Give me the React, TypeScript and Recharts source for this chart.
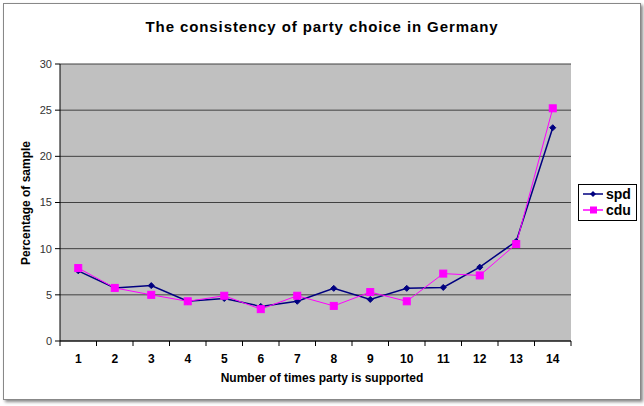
import React from 'react';
import { LineChart, Line, XAxis, YAxis, CartesianGrid } from 'recharts';

// number of times a party is supported
const times = [1, 2, 3, 4, 5, 6, 7, 8, 9, 10, 11, 12, 13, 14];
// percentage of sample
const spd = [7.6, 5.75, 6.0, 4.3, 4.6, 3.75, 4.3, 5.7, 4.5, 5.7, 5.8, 8.0, 10.8, 23.1];
const cdu = [7.9, 5.75, 5.0, 4.3, 4.9, 3.45, 4.9, 3.8, 5.3, 4.3, 7.3, 7.1, 10.5, 25.2];
const yTicks = [0, 5, 10, 15, 20, 25, 30];

const SPD_COLOR = '#000080';
const CDU_COLOR = '#FF00FF';
const FONT = '"Liberation Sans", Arial, sans-serif';

const data = times.map((t, i) => ({ t, spd: spd[i], cdu: cdu[i] }));

// ticks on the half steps are category boundaries, whole ones carry the labels
const xTicks = [0.5, ...times.flatMap((t) => [t, t + 0.5])];

const XTick = (props: any) => {
  const { x, y, payload } = props;
  if (payload.value % 1 !== 0) {
    return <line x1={x} y1={y} x2={x} y2={y + 5} stroke="#000" />;
  }
  return (
    <text x={x} y={y + 22} textAnchor="middle" fontFamily={FONT} fontWeight="bold" fontSize={12} fill="#000">
      {payload.value}
    </text>
  );
};

const Diamond = (props: any) => {
  const { cx, cy } = props;
  if (cx == null || cy == null) return null;
  return <polygon points={`${cx},${cy - 3} ${cx + 3},${cy} ${cx},${cy + 3} ${cx - 3},${cy}`} fill={SPD_COLOR} stroke={SPD_COLOR} />;
};

const Square = (props: any) => {
  const { cx, cy } = props;
  if (cx == null || cy == null) return null;
  return <rect x={cx - 3.5} y={cy - 3.5} width={7} height={7} fill={CDU_COLOR} stroke={CDU_COLOR} />;
};

const LegendBox = () => (
  <div
    style={{
      position: 'absolute',
      left: 578,
      top: 184,
      width: 59,
      height: 37,
      border: '1px solid #000',
      background: '#fff',
      fontFamily: FONT,
      fontWeight: 'bold',
      fontSize: 14,
      boxSizing: 'border-box',
      padding: '1px 0 0 3px',
    }}
  >
    {[
      { name: 'spd', color: SPD_COLOR, square: false },
      { name: 'cdu', color: CDU_COLOR, square: true },
    ].map((s) => (
      <div key={s.name} style={{ display: 'flex', alignItems: 'center', height: 16 }}>
        <svg width={22} height={10} style={{ marginRight: 2 }}>
          <line x1={1} y1={5} x2={21} y2={5} stroke={s.color} strokeWidth={1.5} />
          {s.square ? (
            <rect x={8} y={1.5} width={7} height={7} fill={s.color} />
          ) : (
            <polygon points="11,2 14,5 11,8 8,5" fill={s.color} />
          )}
        </svg>
        <span>{s.name}</span>
      </div>
    ))}
  </div>
);

export default function App() {
  return (
    <div style={{ position: 'absolute', left: 0, top: 0, width: 644, height: 406, background: '#fff' }}>
      <div
        style={{
          position: 'absolute',
          left: 3,
          top: 3,
          width: 636,
          height: 395,
          border: '1px solid #888',
          boxShadow: '2px 2px 3px #888',
          background: '#fff',
        }}
      />
      <div
        style={{
          position: 'absolute',
          left: 0,
          top: 18,
          width: 644,
          textAlign: 'center',
          fontFamily: FONT,
          fontWeight: 'bold',
          fontSize: 15,
          letterSpacing: 0.9,
        }}
      >
        The consistency of party choice in Germany
      </div>
      <div style={{ position: 'absolute', left: 0, top: 0 }}>
        <LineChart width={644} height={406} data={data} margin={{ top: 64, right: 73, bottom: 35, left: 20 }}>
          <CartesianGrid vertical={false} fill="#C0C0C0" stroke="#404040" strokeWidth={1} horizontalValues={yTicks} />
          <XAxis
            dataKey="t"
            type="number"
            domain={[0.5, 14.5]}
            ticks={xTicks}
            interval={0}
            tick={<XTick />}
            tickLine={false}
            tickSize={0}
            tickMargin={0}
            axisLine={{ stroke: '#000' }}
            height={30}
          />
          <YAxis
            domain={[0, 30]}
            ticks={yTicks}
            interval={0}
            width={40}
            tickSize={5}
            tickMargin={3}
            tickLine={{ stroke: '#000' }}
            axisLine={{ stroke: '#000' }}
            tick={{ fontFamily: FONT, fontSize: 11, fill: '#333' }}
          />
          <YAxis yAxisId="r" orientation="right" domain={[0, 30]} width={0} tick={false} tickLine={false} axisLine={{ stroke: '#808080' }} />
          <Line dataKey="spd" stroke={SPD_COLOR} strokeWidth={1.5} dot={<Diamond />} activeDot={false} isAnimationActive={false} />
          <Line dataKey="cdu" stroke={CDU_COLOR} strokeWidth={1} dot={<Square />} activeDot={false} isAnimationActive={false} />
        </LineChart>
      </div>
      <div
        style={{
          position: 'absolute',
          left: 0,
          top: 371,
          width: 644,
          textAlign: 'center',
          fontFamily: FONT,
          fontWeight: 'bold',
          fontSize: 12,
        }}
      >
        Number of times party is supported
      </div>
      <div
        style={{
          position: 'absolute',
          left: 26,
          top: 203,
          transform: 'translate(-50%, -50%) rotate(-90deg)',
          whiteSpace: 'nowrap',
          fontFamily: FONT,
          fontWeight: 'bold',
          fontSize: 12,
        }}
      >
        Percentage of sample
      </div>
      <LegendBox />
    </div>
  );
}
